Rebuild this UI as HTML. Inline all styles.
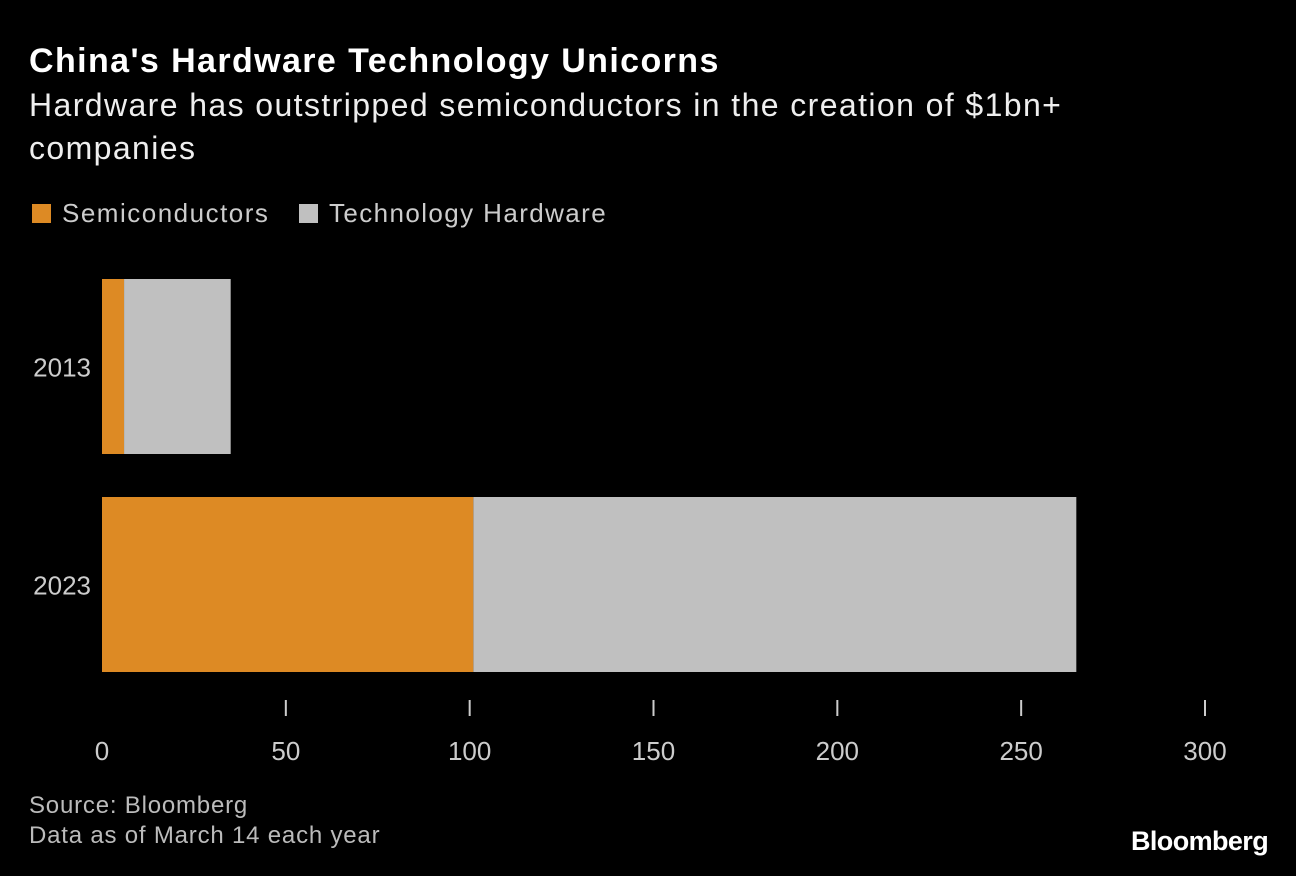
<!DOCTYPE html>
<html><head><meta charset="utf-8"><style>
body{margin:0;background:#000;width:1296px;height:876px;overflow:hidden;font-family:"Liberation Sans",sans-serif;color:#fff}
.t{position:absolute;white-space:nowrap}
</style></head><body>
<div class="t" style="left:29px;top:42px;font-size:34px;font-weight:bold;letter-spacing:1.4px">China's Hardware Technology Unicorns</div>
<div class="t" style="left:29px;top:84px;font-size:32px;line-height:43px;letter-spacing:1.4px;white-space:normal;width:1100px;color:#eee">Hardware has outstripped semiconductors in the creation of $1bn+ companies</div>
<div>
<div style="position:absolute;left:32px;top:204px;width:19px;height:19px;background:#dd8a24"></div>
<div class="t" style="left:62px;top:198px;font-size:26px;letter-spacing:1.5px;color:#ccc">Semiconductors</div>
<div style="position:absolute;left:299px;top:204px;width:19px;height:19px;background:#c0c0c0"></div>
<div class="t" style="left:329px;top:198px;font-size:26px;letter-spacing:1.4px;color:#ccc">Technology Hardware</div>
</div>
<svg id="chart" width="1296" height="876" style="position:absolute;left:0;top:0"></svg>
<div class="t" style="left:29px;top:791px;font-size:24px;letter-spacing:0.8px;color:#bbb;line-height:30px">Source: Bloomberg<br>Data as of March 14 each year</div>
<div class="t" style="left:1131px;top:826px;font-size:27px;font-weight:bold;letter-spacing:-0.6px">Bloomberg</div>
<script>
const categories=["2013","2023"];
const semis=[6,101];
const hardware=[29,164];
const ticks=[0,50,100,150,200,250,300];
const NS="http://www.w3.org/2000/svg";
const svg=document.getElementById('chart');
const x0=102,pxPer=1103/300;
const x=v=>x0+v*pxPer;
const barTop=[279,497],barH=175;
function mk(tag,attrs){const e=document.createElementNS(NS,tag);for(const k in attrs)e.setAttribute(k,attrs[k]);svg.appendChild(e);return e;}
categories.forEach((c,i)=>{
  const y=barTop[i];
  const a=mk('rect',{x:x(0),y:y,width:x(semis[i])-x(0),height:barH,fill:'#dd8a24'});
  
  
  const b=mk('rect',{x:x(semis[i]),y:y,width:x(semis[i]+hardware[i])-x(semis[i]),height:barH,fill:'#c0c0c0'});
  
  
  const t=mk('text',{x:91,y:y+barH/2+10,'text-anchor':'end','font-size':26,fill:'#ccc','font-family':'Liberation Sans, sans-serif'});
  t.textContent=c;
  
  
});
ticks.forEach(v=>{
  if(v>0){const l=mk('line',{x1:x(v),x2:x(v),y1:700,y2:716,stroke:'#ccc','stroke-width':2});
  
  }
  const t=mk('text',{x:x(v),y:760,'text-anchor':'middle','font-size':26,fill:'#ccc','font-family':'Liberation Sans, sans-serif'});
  t.textContent=v;
  
  
});
</script>
</body></html>
